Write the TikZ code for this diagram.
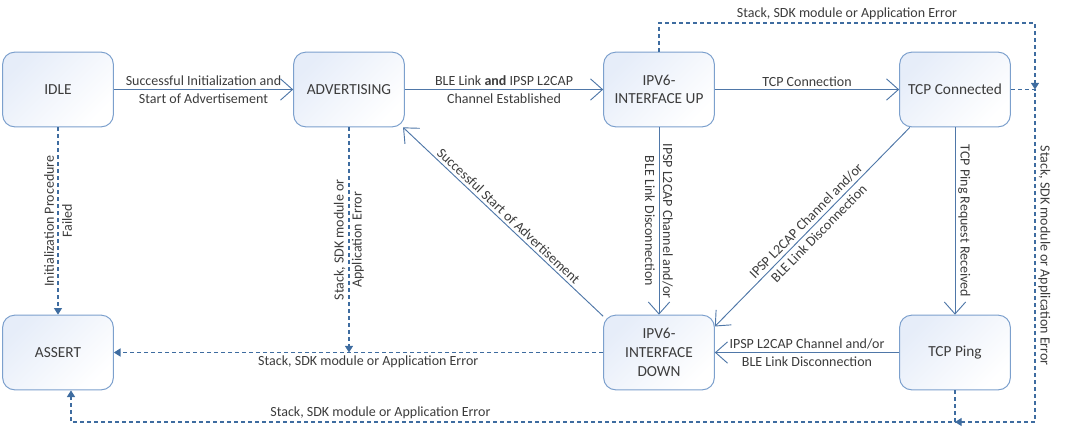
\documentclass[tikz,border=0pt]{standalone}
\usepackage{fontspec}
\setmainfont{Carlito}
\usepackage{xcolor}
\usetikzlibrary{arrows.meta,positioning,shapes}

\definecolor{boxline}{RGB}{124,160,205}
\definecolor{boxfill}{RGB}{230,237,249}
\definecolor{flowline}{RGB}{79,119,168}
\definecolor{errline}{RGB}{62,108,160}
\definecolor{labeltext}{RGB}{60,60,60}

\begin{document}
\begin{tikzpicture}[
    x=0.75pt, y=-0.75pt,
    state/.style={rectangle, draw=boxline, line width=0.75pt, rounded corners=9pt, minimum width=83pt, minimum height=56pt, align=center, text=labeltext, font=\fontsize{11.5}{14}\selectfont, top color=boxfill, bottom color=white, shading angle=45},
    flow/.style={draw=flowline, line width=0.7pt, -{Straight Barb[length=9pt, width=16pt]}},
    err/.style={draw=errline, line width=1pt, dash pattern=on 3pt off 2.25pt, -{Triangle[length=5pt, width=6pt]}},
    lbl/.style={text=labeltext, font=\fontsize{10.5}{13.5}\selectfont, align=center, inner sep=2pt}
]
\useasboundingbox (0,0) rectangle (1072,433);

% states
\node[state] (idle) at (58,89.5) {IDLE};
\node[state] (adv) at (349,89.5) {ADVERTISING};
\node[state] (up) at (659,89.5) {IPV6-\\INTERFACE UP};
\node[state] (tcpc) at (955,89.5) {TCP Connected};
\node[state] (assert) at (58,352.5) {ASSERT};
\node[state] (down) at (659,352.5) {IPV6-\\INTERFACE\\DOWN};
\node[state] (ping) at (955,352.5) {TCP Ping};

% corners of the error paths
\coordinate (topr) at (1035,23);
\coordinate (rjoin) at (1035,89.5);
\coordinate (botr) at (1035,422);
\coordinate (botl) at (71,422);

% normal transitions
\draw[flow] (idle) -- node[lbl] {Successful Initialization and\\Start of Advertisement} (adv);
\draw[flow] (adv) -- node[lbl] {BLE Link \textbf{and} IPSP L2CAP\\Channel Established} (up);
\draw[flow] (up) -- node[lbl, above] {TCP Connection} (tcpc);
\draw[flow] (up) -- node[lbl, rotate=-90] {IPSP L2CAP Channel and/or\\BLE Link Disconnection} (down);
\draw[flow] (tcpc.220) -- node[lbl, sloped] {IPSP L2CAP Channel and/or\\BLE Link Disconnection} (down.25);
\draw[flow] (down.147) -- node[lbl, sloped, above] {Successful Start of Advertisement} (adv.-35);
\draw[flow] (tcpc) -- node[lbl, rotate=-90, anchor=south] {TCP Ping Request Received} (ping);
\draw[flow] (ping) -- node[lbl] {IPSP L2CAP Channel and/or\\BLE Link Disconnection} (down);

% error transitions
\draw[err] (idle) -- node[lbl, rotate=90] {Initialization Procedure\\Failed} (assert);
\draw[err] (adv) -- node[lbl, rotate=90] {Stack, SDK module or\\Application Error} (adv |- assert);
\draw[err] (down) -- node[lbl, below, pos=0.48] {Stack, SDK module or Application Error} (assert);
\draw[err] (up) -- (up |- topr) -- node[lbl, above] {Stack, SDK module or Application Error} (topr) -- (rjoin);
\draw[err] (tcpc) -- (rjoin) -- node[lbl, rotate=-90, anchor=south] {Stack, SDK module or Application Error} (botr) -- (ping |- botr);
\draw[err] (ping) -- (ping |- botr) -- node[lbl, above, pos=0.65] {Stack, SDK module or Application Error} (botl) -- (botl |- assert.south);

\end{tikzpicture}
\end{document}
